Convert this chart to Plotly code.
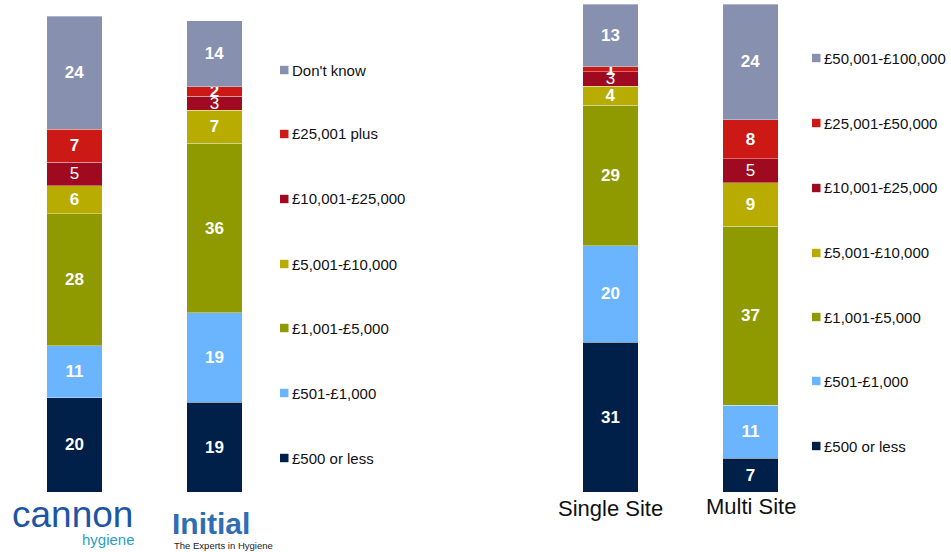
import plotly.graph_objects as go

# Spend bands (bottom of stack first)
bands_left = ["£500 or less", "£501-£1,000", "£1,001-£5,000", "£5,001-£10,000",
              "£10,001-£25,000", "£25,001 plus", "Don't know"]
bands_right = ["£500 or less", "£501-£1,000", "£1,001-£5,000", "£5,001-£10,000",
               "£10,001-£25,000", "£25,001-£50,000", "£50,001-£100,000"]

providers = ["Cannon", "Initial"]
sites = ["Single Site", "Multi Site"]

cannon = [20, 11, 28, 6, 5, 7, 24]
initial = [19, 19, 36, 7, 3, 2, 14]
single_site = [31, 20, 29, 4, 3, 1, 13]
multi_site = [7, 11, 37, 9, 5, 8, 24]

colors = ["#00204A", "#6BB5FF", "#8F9A00", "#B8AC00", "#A00A20", "#CC1915", "#8890B0"]
bold_labels = [True, True, True, True, False, True, True]

W, H = 951, 552
FONT = "Liberation Sans, Arial, sans-serif"


def py(p):
    """pixel row -> paper y"""
    return 1 - p / H


def px(p):
    """pixel column -> paper x"""
    return p / W


fig = go.Figure()

for i in range(len(colors)):
    weight = "bold" if bold_labels[i] else "normal"
    common = dict(
        marker=dict(color=colors[i], line=dict(color="rgba(255,255,255,0.35)", width=1)),
        textposition="inside", insidetextanchor="middle", textangle=0,
        constraintext="none", width=0.393, showlegend=False,
        textfont=dict(family=FONT, size=17, color="white", weight=weight),
        hoverinfo="skip",
    )
    fig.add_trace(go.Bar(x=providers, y=[cannon[i], initial[i]],
                         text=[cannon[i], initial[i]], name=bands_left[i],
                         xaxis="x", yaxis="y", **common))
    fig.add_trace(go.Bar(x=sites, y=[single_site[i], multi_site[i]],
                         text=[single_site[i], multi_site[i]], name=bands_right[i],
                         xaxis="x2", yaxis="y2", **common))

hidden = dict(showgrid=False, zeroline=False, showline=False, showticklabels=False, ticks="")
fig.update_layout(
    width=W, height=H, margin=dict(l=0, r=0, t=0, b=0),
    paper_bgcolor="white", plot_bgcolor="white",
    barmode="stack",
    xaxis=dict(domain=[px(4.5), px(284.5)], range=[-0.5, 1.5], **hidden),
    yaxis=dict(domain=[py(492), py(16)], range=[0, 101], **hidden),
    xaxis2=dict(domain=[px(540.5), px(820.5)], range=[-0.5, 1.5], anchor="y2", **hidden),
    yaxis2=dict(domain=[py(492), py(4)], range=[0, 101], anchor="x2", **hidden),
)

# Legends drawn as swatches + labels
left_rows = [458, 393, 328, 264, 199, 134, 70]
right_rows = [446, 381, 317, 253, 188, 123, 58]
for i in range(len(colors)):
    for sx, tx, rows, labels in ((280, 291, left_rows, bands_left),
                                 (812, 823, right_rows, bands_right)):
        yc = rows[i]
        fig.add_shape(type="rect", xref="paper", yref="paper",
                      x0=px(sx), x1=px(sx + 8.5), y0=py(yc + 4.2), y1=py(yc - 4.2),
                      fillcolor=colors[i], line=dict(width=0))
        fig.add_annotation(xref="paper", yref="paper", x=px(tx), y=py(yc),
                           xanchor="left", yanchor="middle", showarrow=False, borderpad=0,
                           text=labels[i], font=dict(family=FONT, size=15, color="#111111"))

# Site category labels
for name, yc in zip(sites, [508, 506]):
    fig.add_annotation(xref="x2", yref="paper", x=name, y=py(yc),
                       xanchor="center", yanchor="middle", showarrow=False,
                       text=name, font=dict(family=FONT, size=22, color="#111111"))

# Provider wordmarks
fig.add_annotation(xref="paper", yref="paper", x=px(72), y=py(514), xanchor="center",
                   yanchor="middle", showarrow=False, text="cannon", borderpad=0,
                   font=dict(family=FONT, size=37, color="#1D55A5"))
fig.add_annotation(xref="paper", yref="paper", x=px(136), y=py(539), xanchor="right",
                   yanchor="middle", showarrow=False, text="hygiene", borderpad=0,
                   font=dict(family=FONT, size=15, color="#2A9FC4"))
fig.add_annotation(xref="paper", yref="paper", x=px(171), y=py(523), xanchor="left",
                   yanchor="middle", showarrow=False, text="Initial", borderpad=0,
                   font=dict(family=FONT, size=30, color="#2F6DB5", weight="bold"))
fig.add_annotation(xref="paper", yref="paper", x=px(172), y=py(545), xanchor="left",
                   yanchor="middle", showarrow=False, text="The Experts in Hygiene",
                   font=dict(family=FONT, size=9.5, color="#222222"))

fig.write_html("out.html")
